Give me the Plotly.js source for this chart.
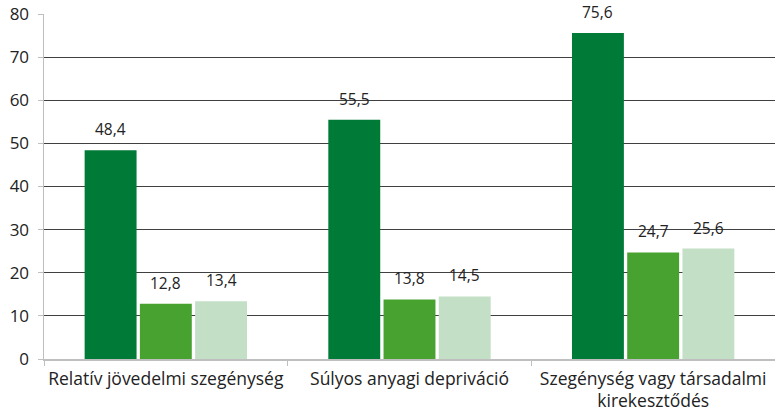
<!DOCTYPE html>
<html>
<head>
<meta charset="utf-8">
<script src="https://cdn.plot.ly/plotly-3.0.1.min.js"></script>
<style>html,body{margin:0;padding:0;background:#fff;}#chart{width:775px;height:416px;}</style>
</head>
<body>
<div id="chart"></div>
<script>
var categories = ["Relatív jövedelmi szegénység", "Súlyos anyagi depriváció", "Szegénység vagy társadalmi<br>kirekesztődés"];
var series1 = [48.4, 55.5, 75.6];
var series2 = [12.8, 13.8, 24.7];
var series3 = [13.4, 14.5, 25.6];
var seriesNames = ["1. sorozat", "2. sorozat", "3. sorozat"];
var yTicks = [0, 10, 20, 30, 40, 50, 60, 70, 80];

var colors = ["#007A37", "#47A230", "#C3E0C6"];
var allSeries = [series1, series2, series3];

var L = 44, R = 0, W = 775;
var catW = (W - L - R) / categories.length;
var bargap = 0.32;
var slot = catW * (1 - bargap) / 3;
var shifts = [-slot, 0, slot];

var traces = allSeries.map(function (s, i) {
  return {
    type: "bar",
    name: seriesNames[i],
    x: categories,
    y: s,
    marker: { color: colors[i], line: { width: 0 } },
    hoverinfo: "y"
  };
});

var annotations = [];
allSeries.forEach(function (s, i) {
  s.forEach(function (v, j) {
    annotations.push({
      x: categories[j], y: v, xref: "x", yref: "y",
      text: v.toFixed(1).replace(".", ","),
      showarrow: false, yanchor: "bottom", xanchor: "center",
      xshift: shifts[i], yshift: 8,
      font: { family: "Open Sans", size: 15.5, color: "#222" }
    });
  });
});

var layout = {
  width: 775, height: 416,
  margin: { l: L, r: R, t: 14, b: 57 },
  paper_bgcolor: "#fff", plot_bgcolor: "#fff",
  showlegend: false,
  barmode: "group",
  bargap: bargap,
  bargroupgap: 0.06,
  font: { family: "Open Sans", color: "#222" },
  xaxis: {
    type: "category",
    showline: true, linecolor: "#BFBFBF", linewidth: 1.5,
    ticks: "outside", tickson: "boundaries", ticklen: 5, tickcolor: "#BFBFBF",
    showgrid: false,
    tickangle: 0,
    ticklabelstandoff: 3,
    tickfont: { family: "Open Sans", size: 17.5, color: "#222" },
    automargin: false
  },
  yaxis: {
    range: [0, 80],
    tickvals: yTicks,
    ticktext: yTicks.map(String),
    showline: true, linecolor: "#BFBFBF", linewidth: 1.5,
    ticks: "outside", ticklen: 5, tickcolor: "#BFBFBF",
    showgrid: true, gridcolor: "#404040", gridwidth: 1,
    zeroline: false,
    ticklabelstandoff: 5,
    tickfont: { family: "Open Sans", size: 17, color: "#222" },
    automargin: false
  },
  annotations: annotations
};

Plotly.newPlot("chart", traces, layout, { displayModeBar: false, staticPlot: true });
</script>
</body>
</html>
